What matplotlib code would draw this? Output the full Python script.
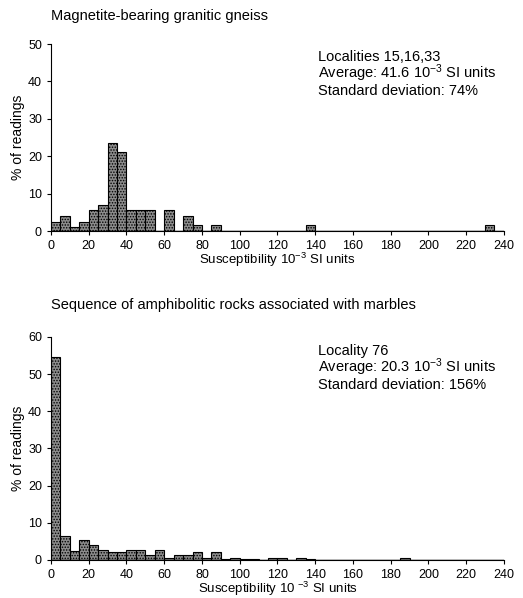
import numpy as np
import matplotlib
matplotlib.use('Agg')
import matplotlib.pyplot as plt

plt.rcParams['font.family'] = ['Liberation Sans', 'DejaVu Sans']
plt.rcParams['mathtext.fontset'] = 'custom'
plt.rcParams['mathtext.rm'] = 'Liberation Sans'
plt.rcParams['mathtext.default'] = 'rm'
plt.rcParams['hatch.linewidth'] = 0.7

bin_width = 5
bin_starts = np.arange(0, 240, bin_width)

# % of readings per 5-unit bin, granitic gneiss
gneiss_pct = [2.5, 4, 1, 2.5, 5.5, 7, 23.5, 21, 5.5, 5.5, 5.5, 0,
              5.5, 0, 4, 1.5, 0, 1.5, 0, 0, 0, 0, 0, 0,
              0, 0, 0, 1.5, 0, 0, 0, 0, 0, 0, 0, 0,
              0, 0, 0, 0, 0, 0, 0, 0, 0, 0, 1.5, 0]

# % of readings per 5-unit bin, amphibolitic rocks
amph_pct = [54.5, 6.5, 2.5, 5.3, 4, 2.7, 2, 2, 2.7, 2.7, 1.3, 2.7,
            0.5, 1.3, 1.3, 2, 0.5, 2, 0.2, 0.6, 0.2, 0.2, 0, 0.6,
            0.6, 0, 0.6, 0.2, 0, 0, 0, 0, 0, 0, 0, 0,
            0, 0.6, 0, 0, 0, 0, 0, 0, 0, 0, 0, 0]

panels = [
    {
        'title': 'Magnetite-bearing granitic gneiss',
        'values': gneiss_pct,
        'ymax': 50,
        'note': 'Localities 15,16,33\nAverage: 41.6 10$^{-3}$ SI units\nStandard deviation: 74%',
        'xlabel': 'Susceptibility 10$^{-3}$ SI units',
        'rect': [0.0975, 0.6137, 0.866, 0.3127],
        'title_y': 1.115,
    },
    {
        'title': 'Sequence of amphibolitic rocks associated with marbles',
        'values': amph_pct,
        'ymax': 60,
        'note': 'Locality 76\nAverage: 20.3 10$^{-3}$ SI units\nStandard deviation: 156%',
        'xlabel': 'Susceptibility 10 $^{-3}$ SI units',
        'rect': [0.0975, 0.0639, 0.866, 0.3726],
        'title_y': 1.11,
    },
]

fig = plt.figure(figsize=(5.23, 5.98), dpi=100)

for p in panels:
    ax = fig.add_axes(p['rect'])
    ax.bar(bin_starts, p['values'], width=bin_width, align='edge',
           facecolor='#8c8c8c', edgecolor='black', linewidth=0.8,
           hatch='......')
    ax.axhline(0, color='black', linewidth=1.0)
    ax.set_xlim(0, 240)
    ax.set_ylim(0, p['ymax'])
    ax.set_xticks(np.arange(0, 241, 20))
    ax.set_yticks(np.arange(0, p['ymax'] + 1, 10))
    ax.spines['top'].set_visible(False)
    ax.spines['right'].set_visible(False)
    ax.tick_params(labelsize=9, length=3, width=0.8)
    ax.set_ylabel('% of readings', fontsize=10, labelpad=2)
    ax.set_xlabel(p['xlabel'], fontsize=9.5, labelpad=-1)
    ax.text(0.0, p['title_y'], p['title'],
            transform=ax.transAxes, fontsize=10.5, ha='left', va='bottom')
    ax.text(0.59, 0.97, p['note'], transform=ax.transAxes,
            fontsize=10.5, ha='left', va='top', linespacing=0.95)

plt.savefig('out.png', dpi=100)
